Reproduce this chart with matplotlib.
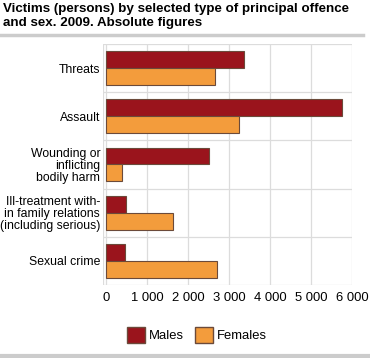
import numpy as np
import matplotlib.pyplot as plt
from matplotlib.lines import Line2D

plt.rcParams['font.family'] = ['Liberation Sans', 'DejaVu Sans']

categories = ["Threats", "Assault", "Wounding or\ninflicting\nbodily harm",
              "Ill-treatment with-\nin family relations\n(including serious)", "Sexual crime"]
males = [3360, 5750, 2510, 480, 470]
females = [2660, 3240, 400, 1630, 2720]
series_names = ["Males", "Females"]
xticks = [0, 1000, 2000, 3000, 4000, 5000, 6000]
xtick_labels = ["0", "1 000", "2 000", "3 000", "4 000", "5 000", "6 000"]

c_male = '#9a141c'
c_female = '#f39c3c'
edge = '#6b4a3a'

fig = plt.figure(figsize=(3.7, 3.58), dpi=100)
ax = fig.add_axes([103 / 370, 1 - 285 / 358, 249 / 370, 241 / 358])

y = np.arange(len(categories))
h = 0.35
ax.barh(y - h / 2, males, h, color=c_male, edgecolor=edge, linewidth=0.8, zorder=3)
ax.barh(y + h / 2, females, h, color=c_female, edgecolor=edge, linewidth=0.8, zorder=3)

ax.set_ylim(len(categories) - 0.5, -0.5)
ax.set_xlim(-70, 6000)
ax.set_yticks(y)
ax.set_yticklabels(categories, fontsize=8.8, linespacing=1.0)
ax.set_xticks(xticks)
ax.set_xticklabels(xtick_labels, fontsize=9.4)
ax.tick_params(length=0, pad=5)
ax.tick_params(axis='y', pad=2)

# grid: vertical at ticks, horizontal between categories
for xv in xticks:
    ax.axvline(xv, color='#dcdcdc', lw=0.9, zorder=1)
for yb in np.arange(-0.5, len(categories), 1.0):
    ax.axhline(yb, color='#dcdcdc', lw=0.9, zorder=1)
ax.axvline(-70, color='#dcdcdc', lw=0.9, zorder=1)
for s in ax.spines.values():
    s.set_visible(False)

fig.text(0.008, 1 - 3 / 358, "Victims (persons) by selected type of principal offence\nand sex. 2009. Absolute figures",
         fontsize=9.6, fontweight='bold', va='top', ha='left', linespacing=1.2)
fig.add_artist(Line2D([0, 363 / 370], [1 - 35 / 358] * 2, color='#cccccc', lw=2.5))
fig.add_artist(Line2D([0, 1], [1 - 356 / 358] * 2, color='#cccccc', lw=3))

handles = [plt.Rectangle((0, 0), 1, 1, facecolor=c_male, edgecolor=edge),
           plt.Rectangle((0, 0), 1, 1, facecolor=c_female, edgecolor=edge)]
fig.legend(handles, series_names, loc='center', bbox_to_anchor=(197 / 370, 1 - 335 / 358),
           ncol=2, frameon=False, fontsize=9.4, handlelength=1.4, handleheight=1.4,
           handletextpad=0.3, columnspacing=0.8)

fig.savefig("out.png", dpi=100)
